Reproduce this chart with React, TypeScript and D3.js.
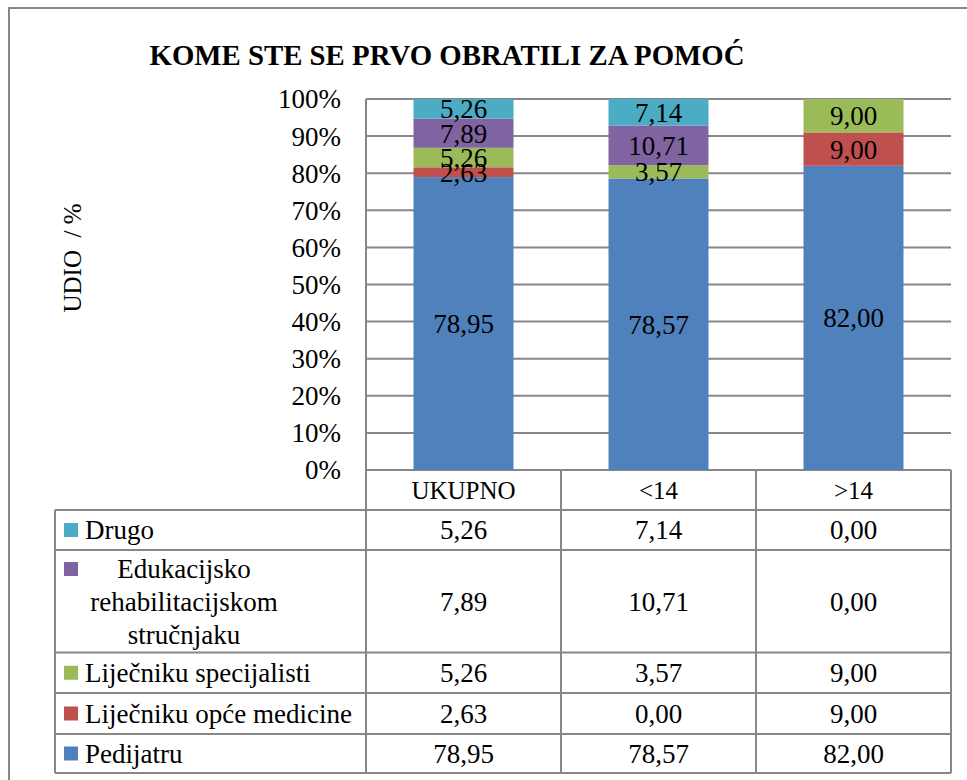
import React from "react";
import * as d3 from "d3";

const title = "KOME STE SE PRVO OBRATILI ZA POMOĆ";
const yAxisLabel = "UDIO  / %";
const categories = ["UKUPNO", "<14", ">14"];
const seriesNames = [
  "Pedijatru",
  "Liječniku opće medicine",
  "Liječniku specijalisti",
  "Edukacijsko rehabilitacijskom stručnjaku",
  "Drugo",
];
const eduLines = ["Edukacijsko", "rehabilitacijskom", "stručnjaku"];
const pedijatru = [78.95, 78.57, 82.0];
const opceMedicine = [2.63, 0.0, 9.0];
const specijalisti = [5.26, 3.57, 9.0];
const edukacijsko = [7.89, 10.71, 0.0];
const drugo = [5.26, 7.14, 0.0];
const seriesColors = ["#4F81BD", "#C0504D", "#9BBB59", "#8064A2", "#4BACC6"];
const yTicks = [0, 0.1, 0.2, 0.3, 0.4, 0.5, 0.6, 0.7, 0.8, 0.9, 1.0];

const seriesValues = [pedijatru, opceMedicine, specijalisti, edukacijsko, drugo];
const keys = ["s0", "s1", "s2", "s3", "s4"];
const rows = categories.map((c, i) => {
  const r: any = { cat: c };
  keys.forEach((k, j) => (r[k] = seriesValues[j][i]));
  return r;
});

const fmt = (v: number) => d3.format(".2f")(v).replace(".", ",");
const pct = (v: number) => d3.format(".0%")(v);

const FONT = "'Liberation Serif', 'Times New Roman', serif";
const GRID = "#878787";

export default function App() {
  const W = 967, H = 780;
  const plot = { left: 366, right: 951, top: 99, bottom: 470 };
  const x = d3.scaleBand<string>().domain(categories).range([plot.left, plot.right]).paddingInner(0).paddingOuter(0);
  const barW = 100;
  const y = d3.scaleLinear().domain([0, 1]).range([plot.bottom, plot.top]);
  const stack = d3.stack<any>().keys(keys).offset(d3.stackOffsetExpand);
  const stacked = stack(rows);

  // table layout
  const tableLeft = 55;
  const headerTop = plot.bottom;
  const headerH = 40;
  const rowHeights = [40, 102.5, 40.5, 41, 39];
  const tableOrder = [4, 3, 2, 1, 0];
  const rowTops: number[] = [];
  let acc = headerTop + headerH;
  rowHeights.forEach((h) => {
    rowTops.push(acc);
    acc += h;
  });
  const tableBottom = acc;
  const colEdges = [plot.left, ...categories.map((c) => (x(c) as number) + x.bandwidth())];
  const TF = 27;

  return (
    <svg width={W} height={H} style={{ position: "absolute", left: 0, top: 0, background: "#fff" }} fontFamily={FONT}>
      <rect x={0} y={0} width={W} height={H} fill="#fff" />
      {/* outer frame */}
      <rect x={9} y={8} width={W + 20} height={H + 20} fill="none" stroke={GRID} strokeWidth={2} />
      {/* title */}
      <text x={447} y={65} textAnchor="middle" fontSize={30} fontWeight="bold" textLength={595} lengthAdjust="spacingAndGlyphs">
        {title}
      </text>
      {/* y axis label */}
      <text transform={`translate(81,258) rotate(-90)`} textAnchor="middle" fontSize={25} style={{ whiteSpace: "pre" }}>
        {yAxisLabel}
      </text>
      {/* gridlines */}
      {yTicks.map((t) => (
        <line key={t} x1={plot.left} x2={plot.right} y1={y(t)} y2={y(t)} stroke={GRID} strokeWidth={2} />
      ))}
      {yTicks.map((t) => (
        <text key={"l" + t} x={341} y={y(t)} dy="0.35em" textAnchor="end" fontSize={27}>
          {pct(t)}
        </text>
      ))}
      {/* bars */}
      {stacked.map((s, si) => (
        <g key={s.key} fill={seriesColors[si]}>
          {s.map((d, ci) => {
            const cx = (x(categories[ci]) as number) + x.bandwidth() / 2;
            const h = y(d[0]) - y(d[1]);
            if (h <= 0) return null;
            return <rect key={ci} x={cx - barW / 2} y={y(d[1])} width={barW} height={h} />;
          })}
        </g>
      ))}
      {/* labels */}
      {stacked.map((s, si) => (
        <g key={"t" + s.key}>
          {s.map((d, ci) => {
            const v = seriesValues[si][ci];
            if (v <= 0) return null;
            const cx = (x(categories[ci]) as number) + x.bandwidth() / 2;
            const cy = (y(d[0]) + y(d[1])) / 2;
            return (
              <text key={ci} x={cx} y={cy} dy="0.35em" textAnchor="middle" fontSize={27} fill="#000">
                {fmt(v)}
              </text>
            );
          })}
        </g>
      ))}
      {/* axis line */}
      <line x1={plot.left} x2={plot.left} y1={plot.top} y2={tableBottom} stroke={GRID} strokeWidth={2} />
      {/* table */}
      <line x1={tableLeft} x2={plot.right} y1={headerTop + headerH} y2={headerTop + headerH} stroke={GRID} strokeWidth={2} />
      {rowTops.map((t, i) => (
        <line key={"h" + i} x1={tableLeft} x2={plot.right} y1={t + rowHeights[i]} y2={t + rowHeights[i]} stroke={GRID} strokeWidth={2} />
      ))}
      <line x1={tableLeft} x2={tableLeft} y1={headerTop + headerH} y2={tableBottom} stroke={GRID} strokeWidth={2} />
      {colEdges.slice(1).map((cx, i) => (
        <line key={"v" + i} x1={cx} x2={cx} y1={headerTop} y2={tableBottom} stroke={GRID} strokeWidth={2} />
      ))}
      {categories.map((c) => (
        <text key={"hd" + c} x={(x(c) as number) + x.bandwidth() / 2} y={headerTop + headerH / 2} dy="0.35em" textAnchor="middle" fontSize={25}>
          {c}
        </text>
      ))}
      {tableOrder.map((si, ri) => {
        const top = rowTops[ri];
        const h = rowHeights[ri];
        const cy = top + h / 2;
        const name = seriesNames[si];
        const multi = si === 3;
        return (
          <g key={"r" + si}>
            <rect x={64} y={multi ? top + 12 : cy - 7} width={14} height={14} fill={seriesColors[si]} />
            {multi ? (
              <text x={184} y={cy} textAnchor="middle" fontSize={TF}>
                {eduLines.map((ln, li) => (
                  <tspan key={li} x={184} y={cy + (li - 1) * 33} dy="0.35em">
                    {ln}
                  </tspan>
                ))}
              </text>
            ) : (
              <text x={85} y={cy} dy="0.35em" fontSize={TF}>
                {name}
              </text>
            )}
            {categories.map((c, ci) => (
              <text key={c} x={(x(c) as number) + x.bandwidth() / 2} y={cy} dy="0.35em" textAnchor="middle" fontSize={TF}>
                {fmt(seriesValues[si][ci])}
              </text>
            ))}
          </g>
        );
      })}
    </svg>
  );
}
